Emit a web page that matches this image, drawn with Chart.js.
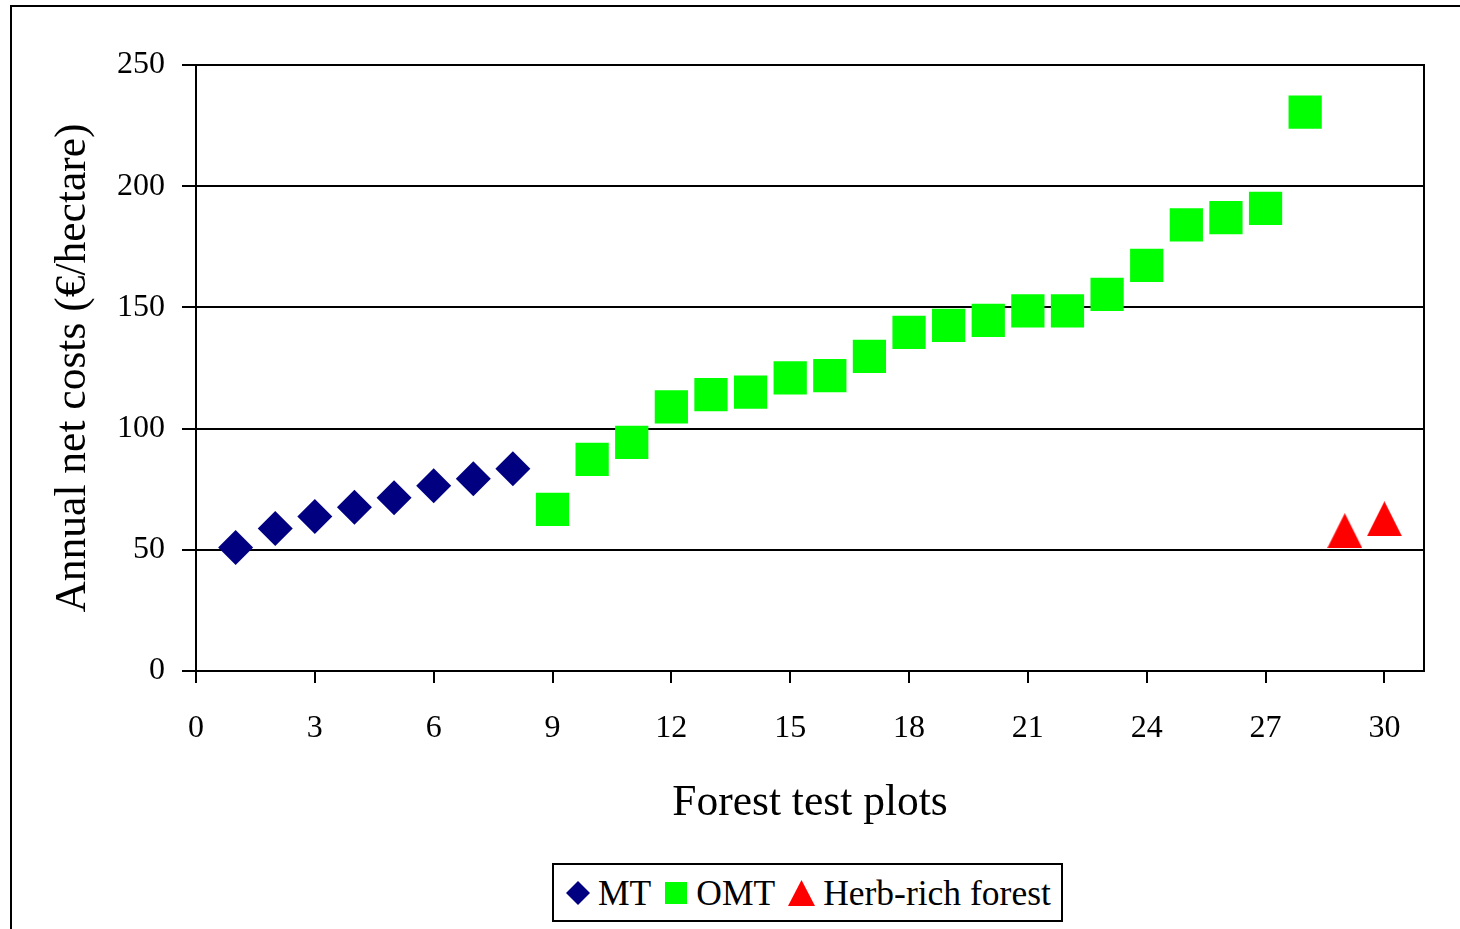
<!DOCTYPE html>
<html lang="en">
<head>
<meta charset="UTF-8" />
<title>Annual net costs by forest test plot</title>
<script src="https://cdn.jsdelivr.net/npm/chart.js"></script>
<style>
  html, body { margin: 0; padding: 0; background: #fff; overflow: hidden; }
  body { width: 1460px; height: 929px; position: relative; font-family: "Liberation Serif", "Times New Roman", serif; }
  #frame { position: absolute; left: 10px; top: 5px; width: 1500px; height: 1000px; border: 2px solid #000; box-sizing: border-box; }
  #chart { position: absolute; left: 0; top: 0; }
  #legend { position: absolute; left: 552px; top: 863px; width: 511px; height: 59px; border: 2px solid #000; box-sizing: border-box;
            display: flex; align-items: center; font-size: 35.5px; color: #000; background: #fff; padding-left: 12px;
            white-space: nowrap; overflow: hidden; }
  #legend .item { display: flex; align-items: center; margin-right: 13px; flex-shrink: 0; }
  #legend .item:last-child { margin-right: 0; }
  #legend svg { margin-right: 8px; flex-shrink: 0; }
</style>
</head>
<body>
<div id="frame"></div>
<canvas id="chart" width="1460" height="929"></canvas>
<div id="legend">
  <span class="item"><svg width="24" height="24"><polygon points="12,0 24,12 12,24 0,12" fill="#000080"/></svg>MT</span>
  <span class="item"><svg width="24" height="24"><rect x="1" y="1" width="22" height="22" fill="#00FF00"/></svg>OMT</span>
  <span class="item"><svg width="27" height="26"><polygon points="13.5,0 27,26 0,26" fill="#FF0000"/></svg>Herb-rich forest</span>
</div>
<script>
  // plot numbers and annual net costs (€/ha) per forest type
  const mtPlots = [1, 2, 3, 4, 5, 6, 7, 8];
  const mtCosts = [51, 58.8, 63.7, 67.6, 71.5, 76.4, 79.3, 83.4];

  const omtPlots = [9, 10, 11, 12, 13, 14, 15, 16, 17, 18, 19, 20, 21, 22, 23, 24, 25, 26, 27, 28];
  const omtCosts = [66.7, 87.3, 94.3, 109, 114, 115, 120.9, 121.9, 129.8, 139.7, 142.6, 144.6, 148.6, 148.6, 155.4, 167.3, 184, 187, 190.9, 230.6];

  const herbPlots = [29, 30];
  const herbCosts = [57.9, 62.8];

  const xTicks = [0, 3, 6, 9, 12, 15, 18, 21, 24, 27, 30];
  const yTicks = [0, 50, 100, 150, 200, 250];

  const toPoints = (xs, ys) => xs.map((x, i) => ({ x: x, y: ys[i] }));

  // triangle marker centred on its bounding box
  function triangleMarker(w, h, color) {
    const c = document.createElement('canvas');
    c.width = w; c.height = h;
    const g = c.getContext('2d');
    g.fillStyle = color;
    g.beginPath();
    g.moveTo(w / 2, 0);
    g.lineTo(w, h);
    g.lineTo(0, h);
    g.closePath();
    g.fill();
    return c;
  }

  const plotFrame = {
    id: 'plotFrame',
    afterDraw(chart) {
      const { ctx, chartArea } = chart;
      ctx.save();
      ctx.strokeStyle = '#000';
      ctx.lineWidth = 2;
      ctx.strokeRect(chartArea.left, chartArea.top, chartArea.right - chartArea.left, chartArea.bottom - chartArea.top);
      ctx.restore();
    }
  };

  const tickFont = { family: '"Liberation Serif", "Times New Roman", serif', size: 32 };
  const titleFont = { family: '"Liberation Serif", "Times New Roman", serif', size: 43.5 };

  new Chart(document.getElementById('chart'), {
    type: 'scatter',
    data: {
      datasets: [
        {
          label: 'MT',
          data: toPoints(mtPlots, mtCosts),
          pointStyle: 'rectRot',
          pointRadius: 17.5,
          pointHoverRadius: 17.5,
          backgroundColor: '#000080',
          borderWidth: 0
        },
        {
          label: 'OMT',
          data: toPoints(omtPlots, omtCosts),
          pointStyle: 'rect',
          pointRadius: 23.5,
          pointHoverRadius: 23.5,
          backgroundColor: '#00FF00',
          borderWidth: 0
        },
        {
          label: 'Herb-rich forest',
          data: toPoints(herbPlots, herbCosts),
          pointStyle: triangleMarker(35, 35, '#FF0000'),
          backgroundColor: '#FF0000',
          borderWidth: 0
        }
      ]
    },
    options: {
      responsive: false,
      animation: false,
      layout: { padding: { top: 65, right: 36, bottom: 99, left: 0 } },
      plugins: {
        legend: { display: false },
        tooltip: { enabled: false }
      },
      scales: {
        x: {
          type: 'linear',
          min: 0,
          max: 31,
          afterBuildTicks: s => { s.ticks = xTicks.map(v => ({ value: v })); },
          afterFit: s => { s.height = 159; },
          grid: { drawOnChartArea: false, color: '#000', lineWidth: 2, tickLength: 12 },
          border: { color: '#000', width: 2 },
          ticks: { color: '#000', font: tickFont, padding: 26, maxRotation: 0 },
          title: { display: true, text: 'Forest test plots', color: '#000', font: titleFont, padding: { top: 0, bottom: 0 } }
        },
        y: {
          type: 'linear',
          min: 0,
          max: 250,
          afterBuildTicks: s => { s.ticks = yTicks.map(v => ({ value: v })); },
          afterFit: s => { s.width = 196; },
          grid: { color: '#000', lineWidth: 2, tickLength: 14 },
          border: { color: '#000', width: 2 },
          ticks: { color: '#000', font: tickFont, padding: 17 },
          title: { display: true, text: 'Annual net costs (€/hectare)', color: '#000', font: titleFont, padding: { top: 47, bottom: 0 } }
        }
      }
    },
    plugins: [plotFrame]
  });
</script>
</body>
</html>
